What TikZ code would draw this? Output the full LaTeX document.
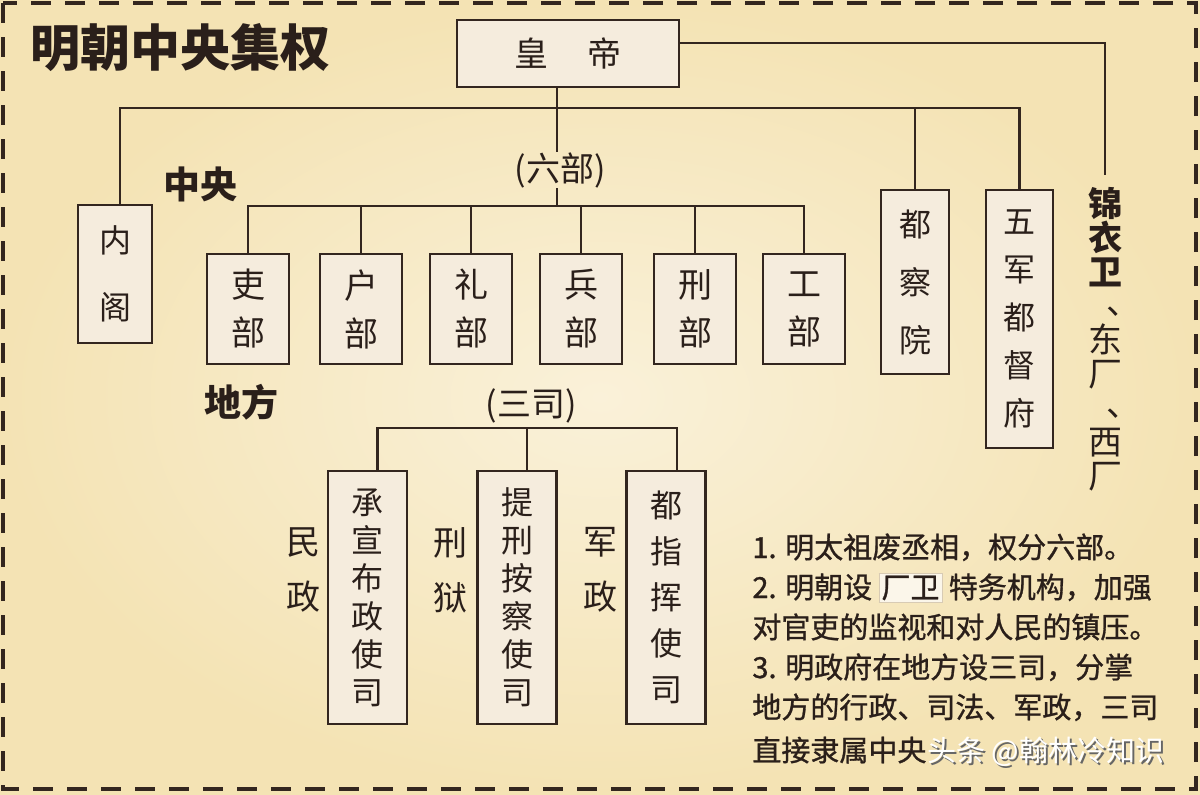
\documentclass[tikz,border=0pt]{standalone}
\usepackage{fontspec}
\setmainfont{Noto Sans CJK SC}
\newfontfamily\notefont[FakeBold=1]{Noto Sans CJK SC}
\usetikzlibrary{calc}
\definecolor{bgin}{HTML}{FAF1D9}
\definecolor{bgout}{HTML}{F4E3B4}
\definecolor{ink}{HTML}{2A1F1A}
\definecolor{linec}{HTML}{33261F}
\definecolor{boxfill}{HTML}{F5ECDD}
\definecolor{hlf}{HTML}{FBF6EA}
\definecolor{hlb}{HTML}{D8CBB4}
\newcommand{\vdun}{\makebox[1em][l]{\hspace{.55em}\raisebox{.12em}{、}}}
\newcommand{\wmtext}{头条 @翰林冷知识}
\begin{document}
\begin{tikzpicture}[x=0.5pt,y=-0.5pt,
  every node/.style={text=ink},
  conn/.style={draw=linec, line width=1.2pt},
  box/.style={draw=linec, line width=1.1pt, fill=boxfill, inner sep=0pt, align=center},
  lbox/.style={box, minimum width=41pt, minimum height=55pt, font=\fontsize{17pt}{24pt}\selectfont},
  sbox/.style={box, minimum width=39.5pt, minimum height=126.5pt},
  lbl/.style={inner sep=0pt, align=center},
  note/.style={anchor=base west, inner sep=0pt, font=\notefont\fontsize{14.5pt}{14.5pt}\selectfont}]
\useasboundingbox (0,0) rectangle (1200,794);
\shade[inner color=bgin, outer color=bgout] (0,0) rectangle (1200,794);
\draw[linec, line width=2pt, dash pattern=on 10pt off 7pt] (3,3) rectangle (1196,789);

% title
\node[lbl, font=\fontsize{25pt}{25pt}\selectfont\bfseries] (title) at (181,48) {明朝中央集权};

% emperor
\node[box, minimum width=111pt, minimum height=33.5pt, font=\fontsize{17pt}{17pt}\selectfont] (hd) at (568,53.5) {皇\hspace{20pt}帝};

% central organs
\node[box, minimum width=37pt, minimum height=69pt, font=\fontsize{16pt}{33.5pt}\selectfont] (ng) at (115,274) {内\\阁};
\node[lbox] (li)   at (248,309) {吏\\部};
\node[lbox] (hu)   at (361,309) {户\\部};
\node[lbox] (lii)  at (471,309) {礼\\部};
\node[lbox] (bing) at (581,309) {兵\\部};
\node[lbox] (xing) at (695,309) {刑\\部};
\node[lbox] (gong) at (804,309) {工\\部};
\node[box, minimum width=34pt, minimum height=92pt, font=\fontsize{16pt}{29pt}\selectfont] (dcy) at (915,282) {都\\察\\院};
\node[box, minimum width=33.5pt, minimum height=129pt, font=\fontsize{16pt}{24pt}\selectfont] (wj) at (1019.5,319) {五\\军\\都\\督\\府};
\node[lbl, anchor=north, font=\fontsize{17pt}{17pt}\selectfont] (jy) at (1105,187)
  {{\bfseries 锦}\\{\bfseries 衣}\\{\bfseries 卫}\\\vdun\\东\\厂\\\vdun\\西\\厂};

% labels
\node[lbl, font=\fontsize{18.5pt}{18.5pt}\selectfont\bfseries] (zy) at (200,184) {中央};
\node[lbl, font=\fontsize{18.5pt}{18.5pt}\selectfont\bfseries] (df) at (241,402) {地方};
\node[lbl, font=\fontsize{17pt}{17pt}\selectfont] (lb) at (560,170) {(六部)};
\node[lbl, font=\fontsize{17pt}{17pt}\selectfont] (sl) at (531,406) {(三司)};

% local organs
\node[sbox, font=\fontsize{16pt}{19pt}\selectfont] (cx) at (367.5,597.5) {承\\宣\\布\\政\\使\\司};
\node[sbox, font=\fontsize{16pt}{19pt}\selectfont] (tx) at (517,597.5) {提\\刑\\按\\察\\使\\司};
\node[sbox, font=\fontsize{16pt}{23pt}\selectfont] (dz) at (666,597.5) {都\\指\\挥\\使\\司};
\node[lbl, font=\fontsize{17pt}{27.5pt}\selectfont] (mz) at (303,570) {民\\政};
\node[lbl, font=\fontsize{17pt}{27.5pt}\selectfont] (xy) at (450,570) {刑\\狱};
\node[lbl, font=\fontsize{17pt}{27.5pt}\selectfont] (jz) at (600,570) {军\\政};

% connectors
\coordinate (stem) at ($(hd.south)+(-11,0)$);
\coordinate (bus) at ($(stem)+(0,20)$);
\coordinate (six) at ($(stem)+(0,118)$);
\draw[conn] (stem) -- (lb.north -| stem);
\draw[conn] (lb.south -| stem) -- (six);
\draw[conn] ($(ng.north)+(5,0)$) |- (bus) -| (wj.north);
\draw[conn] (dcy.north) -- (dcy.north |- bus);
\draw[conn] (li.north) |- (six) -| (gong.north);
\draw[conn] (hu.north) -- (hu.north |- six);
\draw[conn] (lii.north) -- (lii.north |- six);
\draw[conn] (bing.north) -- (bing.north |- six);
\draw[conn] (xing.north) -- (xing.north |- six);
\draw[conn] ($(hd.north east)!0.35!(hd.south east)$) -| ($(jy.north)+(0,-12)$);
\coordinate (sb) at ($(tx.north)+(10,-42)$);
\draw[conn] ($(cx.north)+(10,0)$) |- (sb) -| ($(dz.north)+(11,0)$);
\draw[conn] (sb) -- ($(tx.north)+(10,0)$);

% notes
\node[note] (n1) at (752,558) {1. 明太祖废丞相，权分六部。};
\node[note] (n2) at (752,598) {2. 明朝设 {\setlength{\fboxsep}{1pt}\setlength{\fboxrule}{0.4pt}\fcolorbox{hlb}{hlf}{厂卫}} 特务机构，加强};
\node[note] (n3) at (752,638) {对官吏的监视和对人民的镇压。};
\node[note] (n4) at (752,678) {3. 明政府在地方设三司，分掌};
\node[note] (n5) at (752,718) {地方的行政、司法、军政，三司};
\node[note] (n6) at (752,761) {直接隶属中央};

% watermark (white text with a soft shadow, one node)
\node[anchor=base west, inner sep=0pt, font=\fontsize{14.5pt}{14.5pt}\selectfont, text=white] (wm) at (927,761)
  {\makebox[0pt][l]{\hspace{1pt}\raisebox{-1pt}{\color{black!60}\wmtext}}\wmtext};
\end{tikzpicture}
\end{document}
